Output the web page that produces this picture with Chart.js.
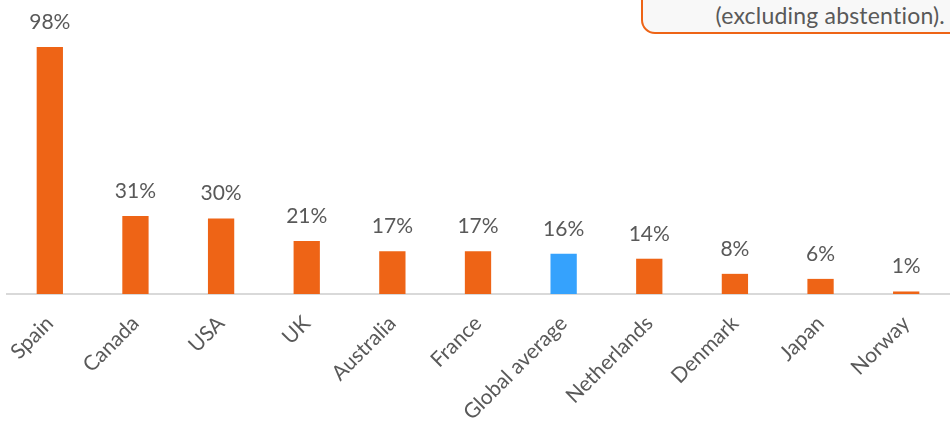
<!DOCTYPE html>
<html>
<head>
<meta charset="utf-8">
<script src="https://cdn.jsdelivr.net/npm/chart.js@4/dist/chart.umd.min.js"></script>
<style>
  html, body { margin: 0; padding: 0; background: #fff; overflow: hidden; }
  .wrap { position: relative; width: 950px; height: 423px; }
  .note {
    position: absolute; left: 641px; top: -20px; width: 330px; height: 54px;
    border: 2px solid #ee6416; border-radius: 14px; background: #f8f8f8;
    box-sizing: border-box;
  }
  .note span {
    position: absolute; right: 24px; top: 19px; letter-spacing: 0.2px;
    font: 23px Lato, sans-serif; color: #595959; white-space: nowrap;
  }
</style>
</head>
<body>
<div class="wrap">
  <canvas id="bar-chart" width="950" height="423"></canvas>
  <div class="note"><span>(excluding abstention).</span></div>
</div>
<script>
// data
var countries = ["Spain", "Canada", "USA", "UK", "Australia", "France",
  "Global average", "Netherlands", "Denmark", "Japan", "Norway"]
var shares = [98, 31, 30, 21, 17, 17, 16, 14, 8, 6, 1]

var orange = "#ee6416"
var blue = "#35a2fd"
var barColors = countries.map(c => c == "Global average" ? blue : orange)

// value labels above each bar
var valueLabels = {
  id: 'valueLabels',
  afterDatasetsDraw(chart) {
    let ctx = chart.ctx
    let meta = chart.getDatasetMeta(0)
    ctx.save()
    ctx.font = '21px Lato, sans-serif'
    ctx.fillStyle = '#595959'
    ctx.textAlign = 'center'
    ctx.textBaseline = 'alphabetic'
    meta.data.forEach((bar, i) => {
      ctx.fillText(shares[i] + '%', bar.x, bar.y - 18)
    })
    ctx.restore()
  }
}

var barChart = new Chart(document.getElementById("bar-chart"), {
  type: 'bar',
  data: {
    labels: countries,
    datasets: [{
      data: shares,
      backgroundColor: barColors,
      categoryPercentage: 1,
      barPercentage: 0.307,
      borderWidth: 0
    }]
  },
  options: {
    responsive: false,
    animation: false,
    layout: { padding: { top: 42, left: 7, right: 1, bottom: 0 } },
    plugins: {
      legend: { display: false },
      tooltip: { enabled: false }
    },
    scales: {
      x: {
        grid: { display: false, drawTicks: false },
        border: { color: '#d9d9d9', width: 2 },
        ticks: {
          minRotation: 45,
          maxRotation: 45,
          padding: 17,
          color: '#595959',
          font: { family: 'Lato', size: 21 }
        },
        afterFit: function(scale) {
          scale.height = 129
          scale.paddingLeft = 0
          scale.paddingRight = 0
        }
      },
      y: {
        display: false,
        min: 0,
        max: 100
      }
    }
  },
  plugins: [valueLabels]
});
</script>
</body>
</html>
